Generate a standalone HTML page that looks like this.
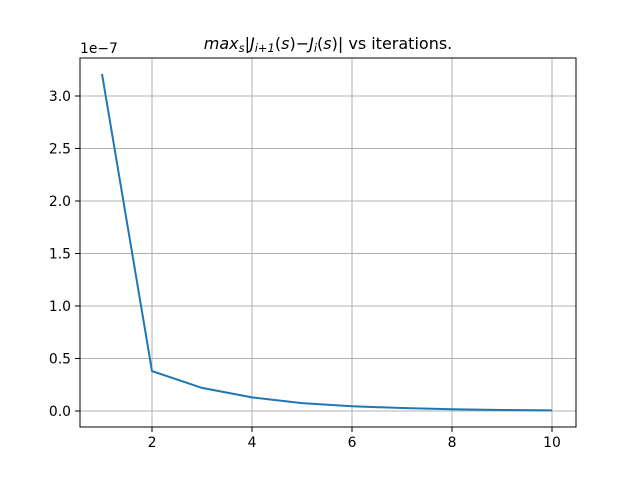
<!DOCTYPE html>
<html><head><meta charset="utf-8"><style>body{margin:0;background:#fff}svg{display:block}text{font-family:"DejaVu Sans","Liberation Sans",sans-serif}</style></head>
<body>
<svg id="chart" width="640" height="480">
<rect x="80" y="58" width="496" height="369" fill="#fff"/>
<g id="grid"></g>
<g id="ticks"></g>
<polyline id="line" fill="none" stroke="#1f77b4" stroke-width="2"/>
<rect x="80" y="58" width="496" height="369" fill="none" stroke="#000" stroke-width="1"/>
<text x="80" y="53" font-size="13.9">1e−7</text>
<text x="328" y="49" font-size="16" text-anchor="middle"><tspan font-style="italic">max</tspan><tspan font-style="italic" font-size="11.5" dy="3">s</tspan><tspan dy="-3">|</tspan><tspan font-style="italic">J</tspan><tspan font-style="italic" font-size="11.5" dy="3">i+1</tspan><tspan dy="-3">(</tspan><tspan font-style="italic">s</tspan><tspan>)−</tspan><tspan font-style="italic">J</tspan><tspan font-style="italic" font-size="11.5" dy="3">i</tspan><tspan dy="-3">(</tspan><tspan font-style="italic">s</tspan><tspan>)| vs iterations.</tspan></text>
</svg>
<script>
const iterations=[1,2,3,4,5,6,7,8,9,10];
const values=[3.21,0.38,0.22,0.13,0.075,0.045,0.028,0.017,0.01,0.006];
const xTicks=[2,4,6,8,10];
const yTicks=[0,0.5,1.0,1.5,2.0,2.5,3.0];
const NS="http://www.w3.org/2000/svg";
const X=v=>102+(v-1)*50;
const Y=v=>411-v*105;
const grid=document.getElementById('grid'),ticks=document.getElementById('ticks');
function mk(tag,attrs,parent){const e=document.createElementNS(NS,tag);for(const k in attrs)e.setAttribute(k,attrs[k]);parent.appendChild(e);return e;}
xTicks.forEach(t=>{const x=X(t);
const g=mk('line',{x1:x,x2:x,y1:58,y2:427,stroke:'#b0b0b0','stroke-width':1},grid);


const tk=mk('line',{x1:x,x2:x,y1:427,y2:432,stroke:'#000','stroke-width':1},ticks);


const tx=mk('text',{x:x,y:447,'font-size':13.9,'text-anchor':'middle'},ticks);tx.textContent=t;

});
yTicks.forEach(t=>{const y=Y(t);
const g=mk('line',{x1:80,x2:576,y1:y,y2:y,stroke:'#b0b0b0','stroke-width':1},grid);


const tk=mk('line',{x1:75,x2:80,y1:y,y2:y,stroke:'#000','stroke-width':1},ticks);


const tx=mk('text',{x:71,y:y+5,'font-size':13.9,'text-anchor':'end'},ticks);tx.textContent=t.toFixed(1);

});
document.getElementById('line').setAttribute('points',iterations.map((v,i)=>X(v)+','+Y(values[i])).join(' '));
</script>
</body></html>
